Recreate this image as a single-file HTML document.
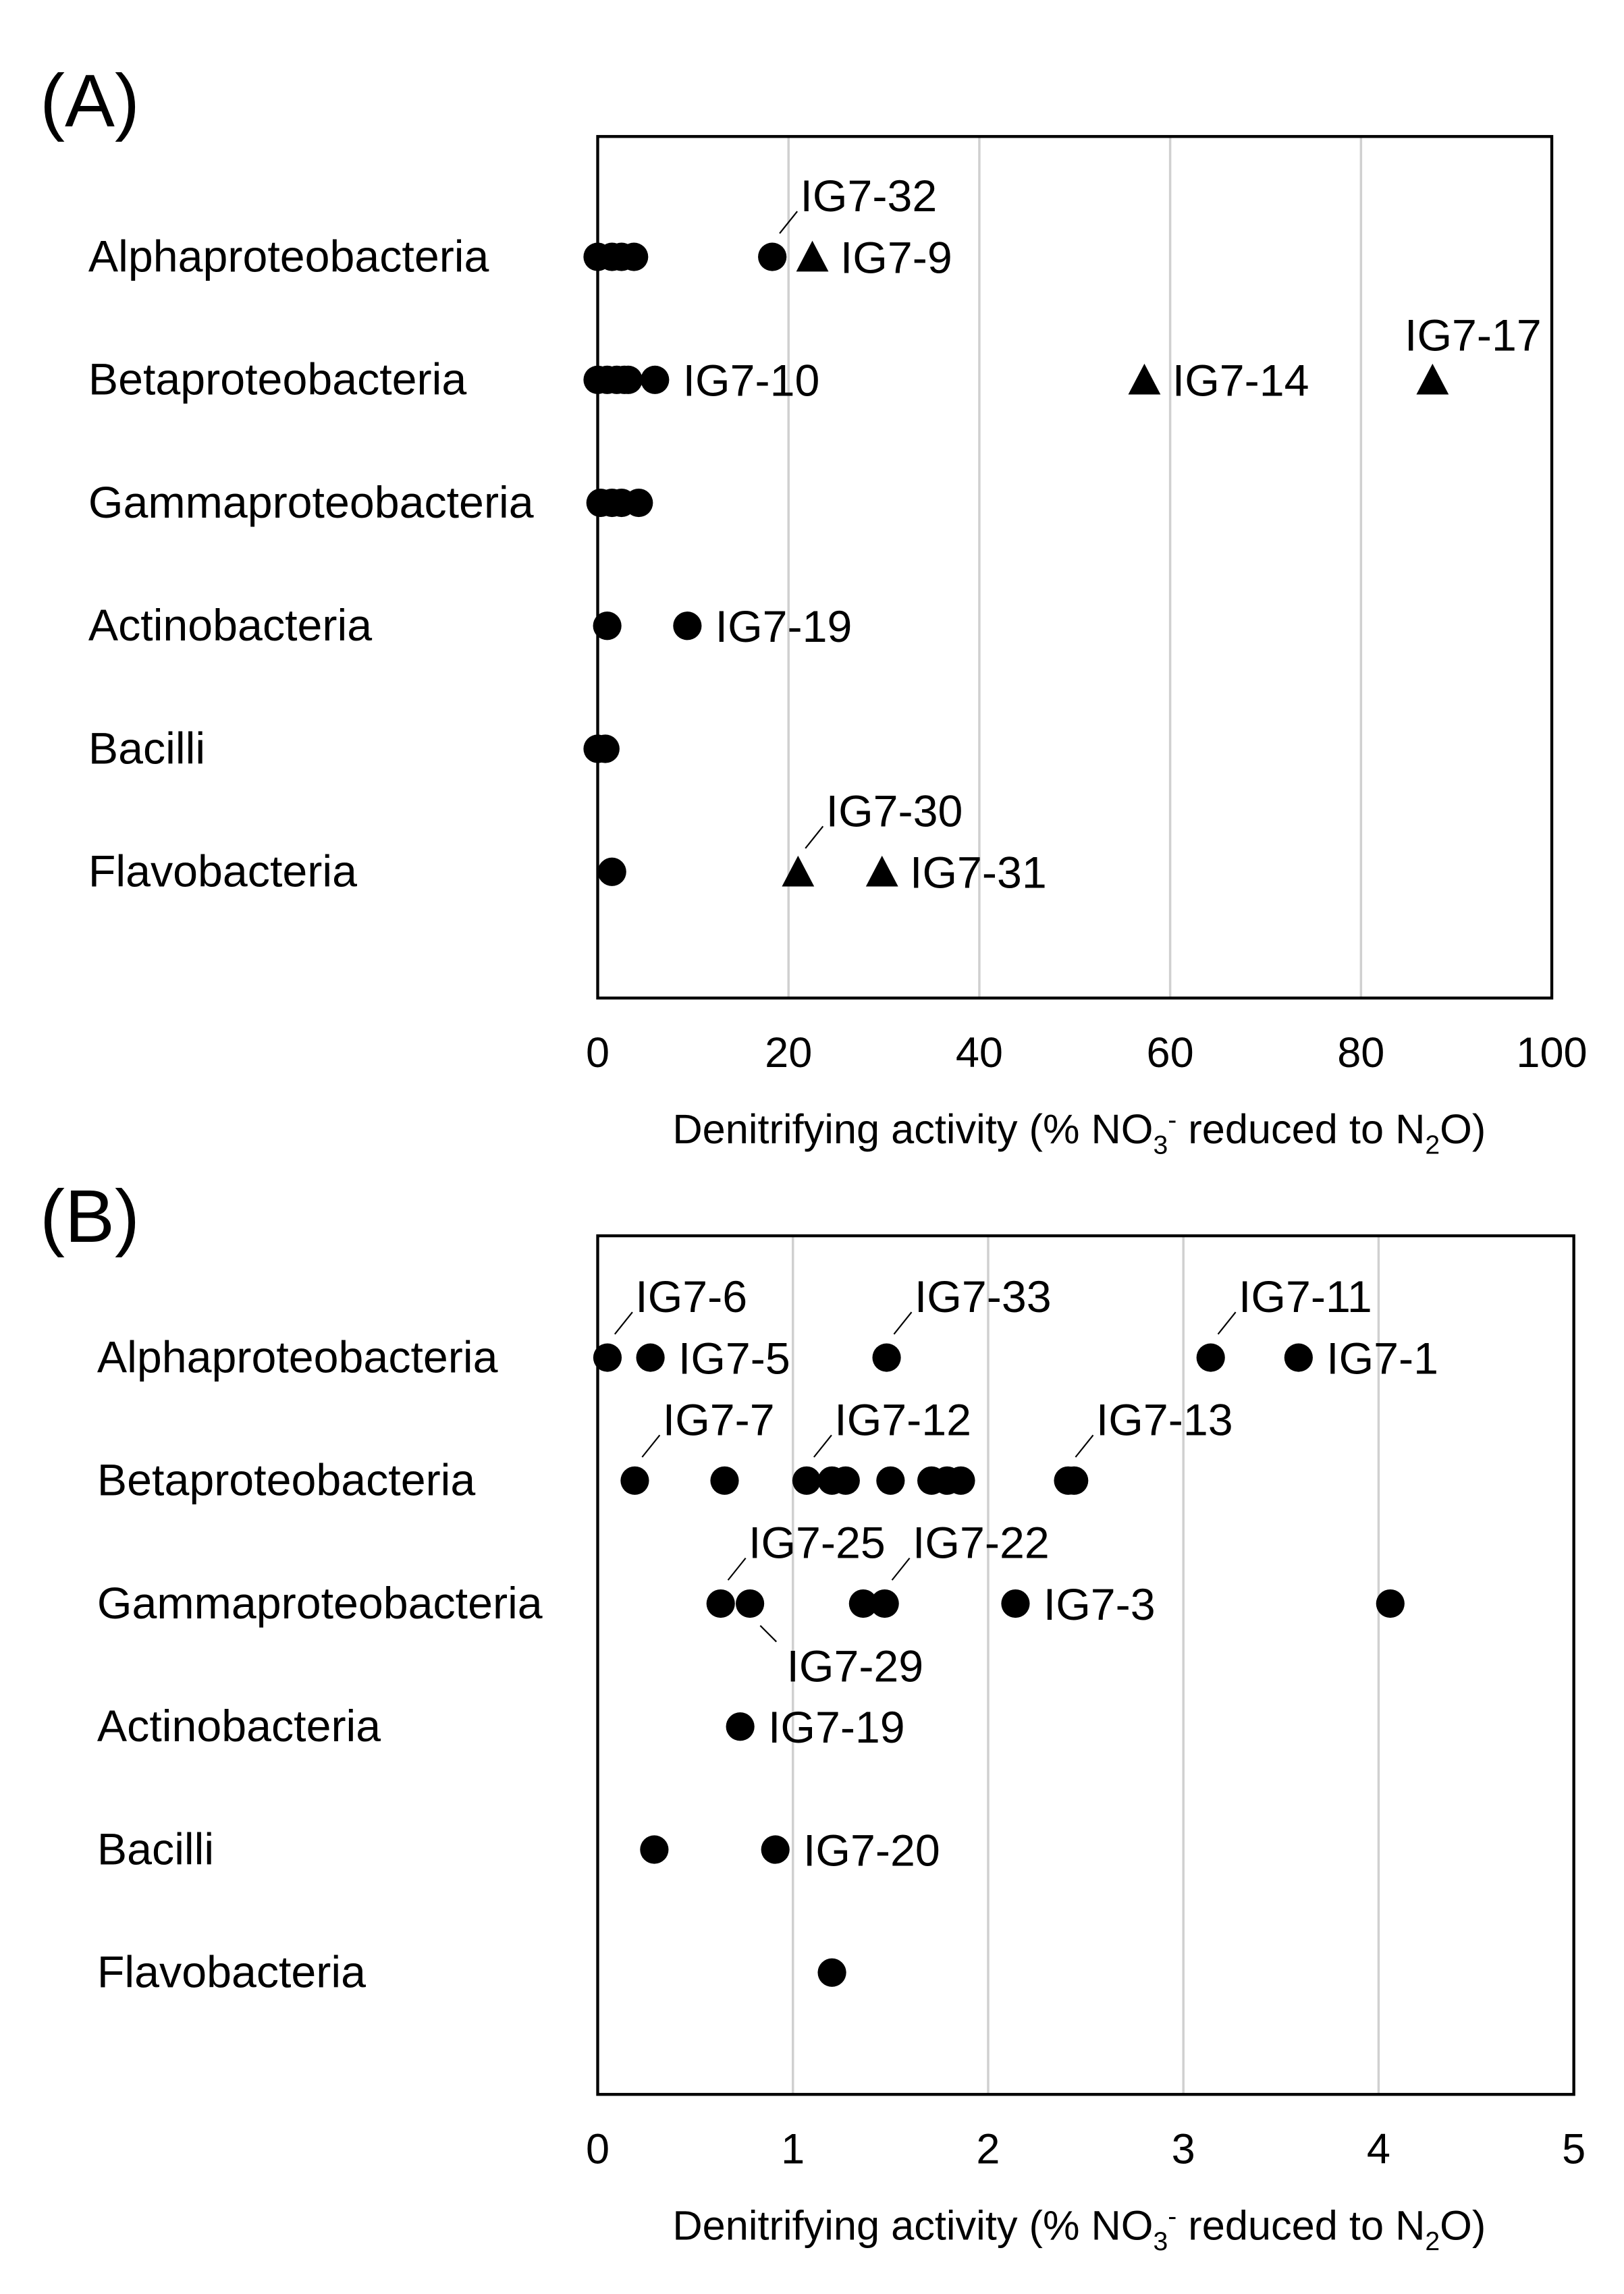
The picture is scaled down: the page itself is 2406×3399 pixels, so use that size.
<!DOCTYPE html>
<html><head><meta charset="utf-8"><style>
html,body{margin:0;padding:0;background:#fff}
svg{display:block}
text{font-family:"Liberation Sans",Arial,sans-serif;fill:#000}
</style></head><body>
<svg id="fig" width="2406" height="3399" viewBox="0 0 1106 1563" xmlns="http://www.w3.org/2000/svg"></svg>
<script>
// ---- data ----
const categories = ["Alphaproteobacteria","Betaproteobacteria","Gammaproteobacteria","Actinobacteria","Bacilli","Flavobacteria"];
// Panel A: circles and triangles (category index, value)
const aCircleCat = [0,0,0,0,0, 1,1,1,1,1,1, 2,2,2,2, 3,3, 4,4, 5];
const aCircleVal = [0,1.5,2.5,3.8,18.3, 0,1,2,2.8,3.2,6, 0.3,1.5,2.5,4.3, 1,9.4, 0,0.8, 1.5];
const aTriCat = [0,1,1,5,5];
const aTriVal = [22.5,57.3,87.5,21,29.8];
const aTicks = [0,20,40,60,80,100];
// labels: text, cat, value
const aLabText = ["IG7-32","IG7-9","IG7-10","IG7-14","IG7-17","IG7-19","IG7-30","IG7-31"];
const aLabCat  = [0,0,1,1,1,3,5,5];
const aLabVal  = [18.3,22.5,6,57.3,87.5,9.4,21,29.8];
const aLabMode = ["up","right","right","right","above","right","up","right"];
// Panel B
const bCat = [0,0,0,0,0, 1,1,1,1,1,1,1,1,1,1,1, 2,2,2,2,2,2, 3, 4,4, 5];
const bVal = [0.05,0.27,1.48,3.14,3.59, 0.19,0.65,1.07,1.2,1.27,1.5,1.71,1.79,1.86,2.41,2.44, 0.63,0.78,1.36,1.47,2.14,4.06, 0.73, 0.29,0.91, 1.2];
const bTicks = [0,1,2,3,4,5];
const bLabText = ["IG7-6","IG7-5","IG7-33","IG7-11","IG7-1","IG7-7","IG7-12","IG7-13","IG7-25","IG7-22","IG7-3","IG7-29","IG7-19","IG7-20"];
const bLabCat  = [0,0,0,0,0,1,1,1,2,2,2,2,3,4];
const bLabVal  = [0.05,0.27,1.48,3.14,3.59,0.19,1.07,2.41,0.63,1.47,2.14,0.78,0.73,0.91];
const bLabMode = ["up","right","up","up","right","up","up","up","up","up","right","down","right","right"];

const NS="http://www.w3.org/2000/svg";
const svg=document.getElementById('fig');
function el(tag,attrs,parent){const e=document.createElementNS(NS,tag);for(const k in attrs)e.setAttribute(k,attrs[k]);(parent||svg).appendChild(e);return e;}
const FS=30.5;
function panel(cfg){
  const g=el('g',{});
  
  
  const xs=v=>cfg.x0+(v-cfg.min)/(cfg.max-cfg.min)*(cfg.x1-cfg.x0);
  const ys=c=>cfg.rowY0+c*cfg.rowStep;
  cfg.ticks.forEach((t,i)=>{
    if(i>0&&i<cfg.ticks.length-1){const l=el('line',{x1:xs(t),x2:xs(t),y1:cfg.y0,y2:cfg.y1,stroke:'#d0d0d0','stroke-width':1.6},g);
      }
    const tx=el('text',{x:xs(t),y:cfg.y1+47,'font-size':29,'text-anchor':'middle'},g);tx.textContent=t;
    
  });
  const r=el('rect',{x:cfg.x0,y:cfg.y0,width:cfg.x1-cfg.x0,height:cfg.y1-cfg.y0,fill:'none',stroke:'#000','stroke-width':2},g);
  
  categories.forEach((c,i)=>{
    const t=el('text',{x:cfg.catX,y:ys(i)+10,'font-size':FS},g);t.textContent=c;
    
  });
  const title=el('text',{x:cfg.titleX,y:cfg.y1+99,'font-size':28.2},g);
  title.innerHTML='Denitrifying activity (% NO<tspan font-size="18" dy="7">3</tspan><tspan font-size="18" dy="-17">-</tspan><tspan dy="10"> reduced to N</tspan><tspan font-size="18" dy="7">2</tspan><tspan dy="-7">O)</tspan>';
  
  const pl=el('text',{x:27,y:cfg.letterY,'font-size':51},g);pl.textContent=cfg.letter;
  
  cfg.cCat.forEach((c,i)=>{
    const m=el('circle',{cx:xs(cfg.cVal[i]),cy:ys(c),r:9.7,fill:'#000'},g);
    
  });
  (cfg.tCat||[]).forEach((c,i)=>{
    const x=xs(cfg.tVal[i]),y=ys(c);
    const m=el('polygon',{points:`${x},${y-11} ${x-11},${y+10} ${x+11},${y+10}`,fill:'#000'},g);
    
  });
  cfg.lText.forEach((s,i)=>{
    const x=xs(cfg.lVal[i]),y=ys(cfg.lCat[i]),mode=cfg.lMode[i];
    let tx,ty;
    if(mode==='right'){tx=x+19;ty=y+11;}
    else if(mode==='above'){tx=x-19;ty=y-20;}
    else if(mode==='up'){tx=x+19;ty=y-31;
      const l=el('line',{x1:x+5,y1:y-16,x2:x+17,y2:y-31,stroke:'#000','stroke-width':1},g);
      }
    else {tx=x+25;ty=y+53;
      const l=el('line',{x1:x+7,y1:y+15,x2:x+18,y2:y+26,stroke:'#000','stroke-width':1},g);
      }
    const t=el('text',{x:tx,y:ty,'font-size':FS},g);t.textContent=s;
    
  });
}
panel({name:'panel-a',letter:'(A)',letterY:86,x0:407,x1:1057,y0:93,y1:680,min:0,max:100,ticks:aTicks,rowY0:175,rowStep:83.8,catX:60,titleX:458,
  cCat:aCircleCat,cVal:aCircleVal,tCat:aTriCat,tVal:aTriVal,lText:aLabText,lCat:aLabCat,lVal:aLabVal,lMode:aLabMode});
panel({name:'panel-b',letter:'(B)',letterY:846,x0:407,x1:1072,y0:842,y1:1427,min:0,max:5,ticks:bTicks,rowY0:925,rowStep:83.8,catX:66,titleX:458,
  cCat:bCat,cVal:bVal,lText:bLabText,lCat:bLabCat,lVal:bLabVal,lMode:bLabMode});
</script>
</body></html>
